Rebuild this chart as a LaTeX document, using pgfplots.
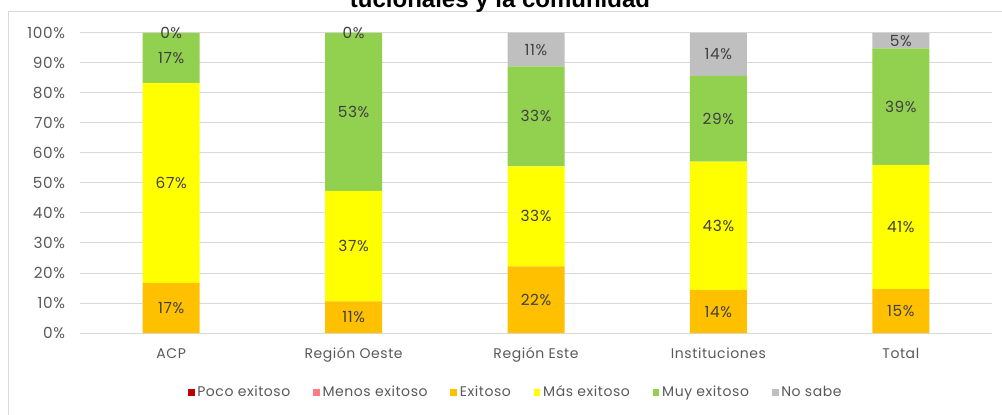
\documentclass[border=0pt]{standalone}
\usepackage{fontspec}
\setmainfont{Poppins}[LetterSpace=4]
\newfontfamily\titlefont{Liberation Sans}
\usepackage{pgfplots}
\pgfplotsset{compat=1.18}
\usepackage{pgfplotstable}
\definecolor{poco}{HTML}{C00000}
\definecolor{menos}{HTML}{FF7C80}
\definecolor{exi}{HTML}{FFC000}
\definecolor{mas}{HTML}{FFFF00}
\definecolor{muy}{HTML}{92D050}
\definecolor{nos}{HTML}{BFBFBF}
\definecolor{txtgray}{HTML}{595959}
\definecolor{lblgray}{HTML}{404040}
\definecolor{gridgray}{HTML}{D9D9D9}

\pgfplotstableread{
x poco menos exi mas muy nos
0 0 0 16.67 66.67 16.66 0
1 0 0 10.53 36.84 52.63 0
2 0 0 22.22 33.33 33.34 11.11
3 0 0 14.29 42.86 28.57 14.28
4 0 0 14.6 41.4 38.9 5.1
}\datatable

\pgfplotstableread{
x y lab
0 8.33 17
0 50.00 67
0 91.67 17
0 100 0
1 5.26 11
1 28.95 37
1 73.68 53
1 100 0
2 11.11 22
2 38.89 33
2 72.22 33
2 94.44 11
3 7.14 14
3 35.71 43
3 71.43 29
3 92.86 14
4 7.30 15
4 35.30 41
4 75.45 39
4 97.45 5
}\labeltable

\begin{document}
\begin{tikzpicture}[x=0.75pt,y=0.75pt]
\path[use as bounding box] (0,0) rectangle (1002,414);
\clip (0,0) rectangle (1002,414);
\draw[color=gridgray, line width=0.75pt] (8,-5) -- (8,402) -- (1010,402);
\node[anchor=base, font=\titlefont\bfseries\fontsize{18}{20}\selectfont] at (500,406) {tucionales y la comunidad};

\begin{axis}[
  at={(60pt,60.75pt)}, anchor=south west,
  scale only axis, width=684pt, height=225pt,
  xmin=-0.5, xmax=4.5, ymin=0, ymax=100,
  ybar stacked, bar width=42.75pt,
  axis line style={draw=none},
  major tick length=0pt,
  ytick={0,10,...,100},
  yticklabels={0\%,10\%,20\%,30\%,40\%,50\%,60\%,70\%,80\%,90\%,100\%},
  yticklabel style={anchor=east, inner sep=0pt, xshift=-11pt, text=txtgray, font=\fontsize{11.5}{13}\selectfont},
  xtick=data,
  xticklabels={ACP,Región Oeste,Región Este,Instituciones,Total},
  xticklabel style={anchor=base, inner sep=0pt, yshift=-18.75pt, text=txtgray, font=\fontsize{10.5}{12}\selectfont},
  ymajorgrids,
  grid style={gridgray, line width=0.75pt},
  legend columns=6,
  legend style={draw=none, fill=none, at={(0.478,-0.197)}, anchor=center,
    font=\fontsize{10.5}{12}\selectfont, text=txtgray,
    /tikz/every even column/.append style={column sep=15pt}},
  legend image code/.code={\fill[#1] (0pt,-2.6pt) rectangle (5.2pt,2.6pt);},
]
\addplot[fill=poco, draw=none] table[x=x,y=poco] {\datatable};
\addlegendentry{Poco exitoso}
\addplot[fill=menos, draw=none] table[x=x,y=menos] {\datatable};
\addlegendentry{Menos exitoso}
\addplot[fill=exi, draw=none] table[x=x,y=exi] {\datatable};
\addlegendentry{Exitoso}
\addplot[fill=mas, draw=none] table[x=x,y=mas] {\datatable};
\addlegendentry{Más exitoso}
\addplot[fill=muy, draw=none] table[x=x,y=muy] {\datatable};
\addlegendentry{Muy exitoso}
\addplot[fill=nos, draw=none] table[x=x,y=nos] {\datatable};
\addlegendentry{No sabe}
\end{axis}

\begin{axis}[
  at={(60pt,60.75pt)}, anchor=south west,
  scale only axis, width=684pt, height=225pt,
  xmin=-0.5, xmax=4.5, ymin=0, ymax=100,
  hide axis, clip=false,
]
\addplot[draw=none, mark=none, nodes near coords={\pgfplotspointmeta\%},
  point meta=explicit symbolic, nodes near coords align=center,
  every node near coord/.append style={anchor=center, text=lblgray, font=\fontsize{11.5}{13}\selectfont}]
  table[x=x,y=y,meta=lab] {\labeltable};
\end{axis}
\end{tikzpicture}
\end{document}
